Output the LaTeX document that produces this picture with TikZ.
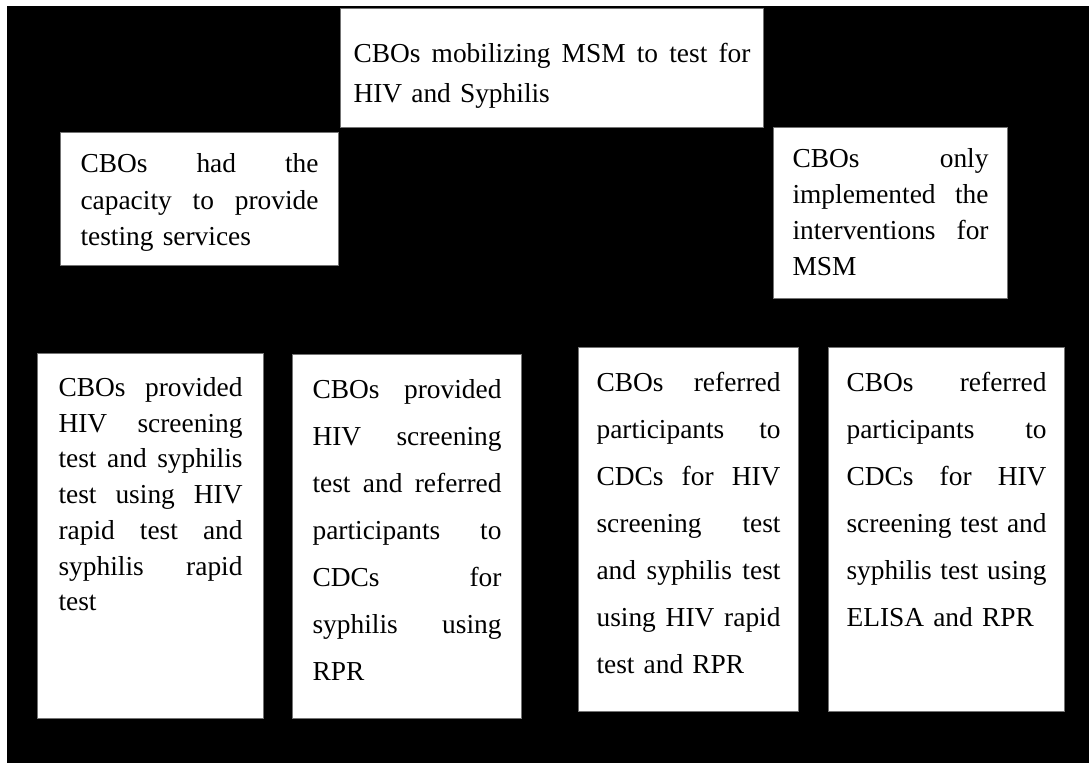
\documentclass[tikz,border=0pt]{standalone}
\usepackage{fontspec}
\setmainfont{Liberation Serif}
\newcommand\jl[1]{\hbox to \hsize{\spaceskip=0.25em plus 1fil\relax #1}\par}
\tikzset{
  cbox/.style={draw=black!55, line width=1.1pt, fill=white, anchor=north west,
    inner ysep=0pt, align=left, text=black},
  fs/.style={font=\fontsize{27.4pt}{#1}\selectfont}
}
\begin{document}
\begin{tikzpicture}[x=1pt,y=-1pt]
\useasboundingbox (0,0) rectangle (1089,763);
\fill[white] (0,0) rectangle (1089,763);
\fill[black] (7,6) rectangle (1089,763);

\node[cbox, fs=40pt, inner xsep=13pt, text width=397pt, text height=54pt, text depth=65pt]
  (top) at (340,8) {\jl{CBOs mobilizing MSM to test for}HIV and Syphilis};

\node[cbox, fs=36.5pt, inner xsep=20pt, text width=238pt, text height=40pt, text depth=93pt]
  (cap) at (60,132) {\jl{CBOs had the}\jl{capacity to provide}testing services};

\node[cbox, fs=36pt, inner xsep=19pt, text width=196pt, text height=40pt, text depth=131pt]
  (only) at (773,127) {\jl{CBOs only}\jl{implemented the}\jl{interventions for}MSM};

\node[cbox, fs=35.7pt, inner xsep=21pt, text width=184pt, text height=43pt, text depth=322pt]
  (b1) at (37,353) {\jl{CBOs provided}\jl{HIV screening}\jl{test and syphilis}\jl{test using HIV}\jl{rapid test and}\jl{syphilis rapid}test};

\node[cbox, fs=47pt, inner xsep=20pt, text width=189pt, text height=44pt, text depth=320pt]
  (b2) at (292,354) {\jl{CBOs provided}\jl{HIV screening}\jl{test and referred}\jl{participants to}\jl{CDCs for}\jl{syphilis using}RPR};

\node[cbox, fs=47pt, inner xsep=18pt, text width=184pt, text height=44pt, text depth=320pt]
  (b3) at (578,347) {\jl{CBOs referred}\jl{participants to}\jl{CDCs for HIV}\jl{screening test}\jl{and syphilis test}\jl{using HIV rapid}test and RPR};

\node[cbox, fs=47pt, inner xsep=18pt, text width=200pt, text height=44pt, text depth=320pt]
  (b4) at (828,347) {\jl{CBOs referred}\jl{participants to}\jl{CDCs for HIV}\jl{screening test and}\jl{syphilis test using}ELISA and RPR};
\end{tikzpicture}
\end{document}
